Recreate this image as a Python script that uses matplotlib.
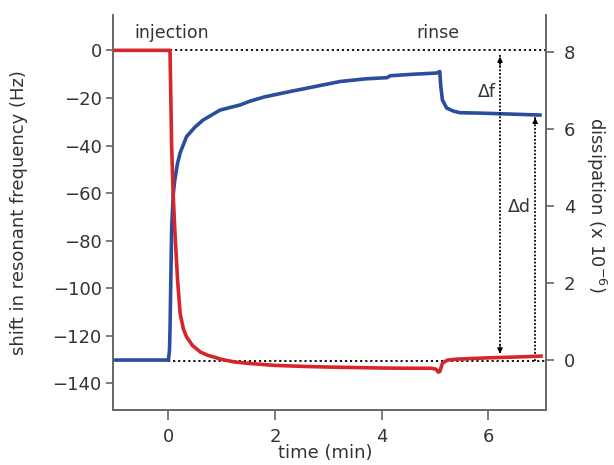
import numpy as np
import matplotlib.pyplot as plt

plt.rcParams['font.family'] = ['DejaVu Sans']
plt.rcParams['text.color'] = '#333333'
plt.rcParams['axes.labelcolor'] = '#333333'
plt.rcParams['xtick.color'] = '#666666'
plt.rcParams['ytick.color'] = '#666666'
plt.rcParams['xtick.labelcolor'] = '#333333'
plt.rcParams['ytick.labelcolor'] = '#333333'

# frequency shift (Hz) vs time (min)
t_freq = [-1.04, 0.0, 0.03, 0.06, 0.09, 0.12, 0.17, 0.22, 0.28, 0.34, 0.45,
          0.6, 0.74, 0.84, 1.0, 1.25, 1.53, 2.0, 2.5, 3.0, 3.5, 4.0, 4.5,
          4.93, 5.02, 5.06, 5.09, 5.14, 5.23, 5.4, 5.7, 6.03, 6.5, 6.99]
freq = [0, 0, 0, -40, -61, -75.5, -96, -110.6, -117, -120.4, -124,
        -126.8, -128.2, -128.8, -129.9, -131.0, -131.6, -132.4, -132.8, -133.1, -133.3, -133.5, -133.6,
        -133.6, -134.0, -135.2, -135.0, -131.5, -130.2, -129.8, -129.5, -129.2, -128.9, -128.5]

# dissipation (x 1e-6) vs time (min)
t_diss = [-1.04, 0.0, 0.02, 0.03, 0.06, 0.09, 0.12, 0.17, 0.22, 0.34, 0.5,
          0.65, 0.97, 1.34, 1.53, 1.8, 2.28, 2.75, 3.22, 3.7, 4.1, 4.16,
          4.6, 5.03, 5.09, 5.11, 5.14, 5.22, 5.35, 5.47, 5.85, 6.3, 6.97]
diss = [0.0, 0.0, 0.25, 0.78, 3.38, 4.3, 4.68, 5.1, 5.38, 5.8, 6.05,
        6.23, 6.49, 6.62, 6.72, 6.83, 6.97, 7.1, 7.23, 7.3, 7.33, 7.38,
        7.42, 7.45, 7.49, 7.1, 6.75, 6.54, 6.46, 6.42, 6.41, 6.39, 6.36]

df_final = -128.6   # frequency level after rinse
dd_final = 6.36     # dissipation level after rinse
t_df = 6.22
t_dd = 6.88

red = '#d4262b'
blue = '#2a4d9c'

fig = plt.figure(figsize=(6.14, 4.65), dpi=100)
ax = fig.add_axes([0.184, 0.118, 0.705, 0.850])
ax2 = ax.twinx()
ax.set_zorder(ax2.get_zorder() + 1)
ax.patch.set_visible(False)

ax2.plot(t_diss, diss, color=blue, lw=2.6, solid_joinstyle='round')
ax.plot(t_freq, freq, color=red, lw=2.6, solid_joinstyle='round')

# reference levels
ax.plot([0.03, 7.08], [0, 0], color='k', ls=(0, (1.2, 1.6)), lw=1.3, zorder=1)
ax2.plot([0.0, 7.08], [-0.03, -0.03], color='k', ls=(0, (1.2, 1.6)), lw=1.3, zorder=1)

# delta f arrow
ax.plot([t_df, t_df], [-2, df_final + 1], color='k', ls=(0, (1, 1)), lw=1.3)
ax.annotate('', xy=(t_df, -1.5), xytext=(t_df, -8),
            arrowprops=dict(arrowstyle='-|>', color='k', lw=0.8, mutation_scale=8))
ax.annotate('', xy=(t_df, df_final), xytext=(t_df, df_final + 6),
            arrowprops=dict(arrowstyle='-|>', color='k', lw=0.8, mutation_scale=8))
ax.text(t_df - 0.08, -17.5, 'Δf', ha='right', va='center', fontsize=12.5)

# delta d arrow
ax2.plot([t_dd, t_dd], [-0.03, dd_final - 0.05], color='k', ls=(0, (1, 1)), lw=1.3)
ax2.annotate('', xy=(t_dd, dd_final), xytext=(t_dd, dd_final - 0.3),
             arrowprops=dict(arrowstyle='-|>', color='k', lw=0.8, mutation_scale=8))
ax2.text(t_dd - 0.08, 3.97, 'Δd', ha='right', va='center', fontsize=12.5)

ax.text(0.07, 7.4, 'injection', ha='center', va='center', fontsize=12.5)
ax.text(5.06, 7.4, 'rinse', ha='center', va='center', fontsize=12.5)

ax.set_xlim(-1.04, 7.08)
ax.set_ylim(-151.2, 14.9)
ax2.set_ylim(-1.30, 8.96)
ax.set_xticks([0, 2, 4, 6])
ax.set_yticks([0, -20, -40, -60, -80, -100, -120, -140])
ax2.set_yticks([0, 2, 4, 6, 8])

for a in (ax, ax2):
    a.spines['top'].set_visible(False)
    for s in ('left', 'right', 'bottom'):
        a.spines[s].set_color('#666666')
        a.spines[s].set_linewidth(1.2)
ax.tick_params(axis='both', labelsize=13, width=1.2)
ax.tick_params(axis='y', length=5, pad=3)
ax.tick_params(axis='x', length=7, pad=6)
ax2.tick_params(axis='y', labelsize=13, width=1.2, length=6, pad=7)

ax.set_xlabel('time (min)', fontsize=13, va='center')
ax.set_ylabel('shift in resonant frequency (Hz)', fontsize=13, va='center')
ax2.set_ylabel('dissipation (x 10$^{-6}$)', fontsize=13, rotation=270, va='center')
ax.xaxis.set_label_coords(0.49, -0.109)
ax.yaxis.set_label_coords(-0.216, 0.5)
ax2.yaxis.set_label_coords(1.116, 0.52)

fig.savefig('out.png', dpi=100)
